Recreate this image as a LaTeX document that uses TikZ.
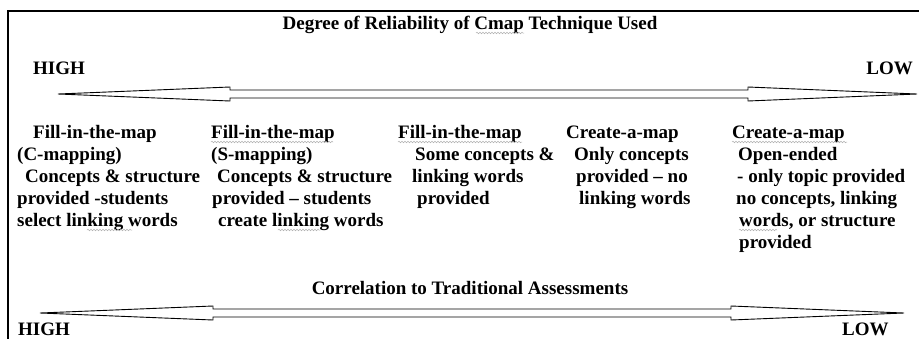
\documentclass[tikz,border=0pt]{standalone}
\usepackage{fontspec}
\setmainfont{Liberation Serif}
\usetikzlibrary{decorations.pathmorphing}
\begin{document}
\begin{tikzpicture}[x=1pt,y=-1pt,
  txt/.style={font=\bfseries\fontsize{19}{22}\selectfont, inner sep=0pt, anchor=base west},
  frame/.style={line width=1.4pt, black},
  blockarrow/.style={draw=black, line width=0.9pt, fill=white, line join=miter},
  squiggle/.style={draw=gray!60, line width=0.5pt, decorate, decoration={snake, amplitude=0.8pt, segment length=3pt}}]
\useasboundingbox (0,0) rectangle (919,338);
\clip (0,0) rectangle (919,338);
\fill[white] (0,0) rectangle (919,338);
% frame
\draw[frame] (919,11) -- (8,11) -- (8,340);
% titles
\node[txt, anchor=base] (title) at (470,29) {Degree of Reliability of Cmap Technique Used};
\node[txt] (high1) at (33,74) {HIGH};
\node[txt, anchor=base east] (low1) at (913,74) {LOW};
\node[txt, anchor=base] (corr) at (470,294) {Correlation to Traditional Assessments};
\node[txt] (high2) at (18,335) {HIGH};
\node[txt] (low2) at (842,335) {LOW};
% top double arrow
\draw[blockarrow] (58,94) -- (230,87) -- (230,90) -- (748,90) -- (748,87) -- (917,94)
  -- (748,101) -- (748,98) -- (230,98) -- (230,101) -- cycle;
% bottom double arrow
\draw[blockarrow] (40,313) -- (213,306) -- (213,309) -- (731,309) -- (731,306) -- (904,313)
  -- (731,320) -- (731,317) -- (213,317) -- (213,320) -- cycle;
% column 1
\node[txt] (c1a) at (33,138) {Fill-in-the-map};
\node[txt] (c1b) at (17,160) {(C-mapping)};
\node[txt] (c1c) at (25,182) {Concepts \& structure};
\node[txt] (c1d) at (17,204) {provided -students};
\node[txt] (c1e) at (17,226) {select linking words};
% column 2
\node[txt] (c2a) at (211,138) {Fill-in-the-map};
\node[txt] (c2b) at (211,160) {(S-mapping)};
\node[txt] (c2c) at (217,182) {Concepts \& structure};
\node[txt] (c2d) at (212,204) {provided – students};
\node[txt] (c2e) at (218,226) {create linking words};
% column 3
\node[txt] (c3a) at (398,138) {Fill-in-the-map};
\node[txt] (c3b) at (415,160) {Some concepts \&};
\node[txt] (c3c) at (412,182) {linking words};
\node[txt] (c3d) at (417,204) {provided};
% column 4
\node[txt] (c4a) at (566,138) {Create-a-map};
\node[txt] (c4b) at (574,160) {Only concepts};
\node[txt] (c4c) at (576,182) {provided – no};
\node[txt] (c4d) at (579,204) {linking words};
% column 5
\node[txt] (c5a) at (732,138) {Create-a-map};
\node[txt] (c5b) at (738,160) {Open-ended};
\node[txt] (c5c) at (737,182) {- only topic provided};
\node[txt] (c5d) at (736,204) {no concepts, linking};
\node[txt] (c5e) at (739,226) {words, or structure};
\node[txt] (c5f) at (739,248) {provided};
% spell-check squiggles
\draw[squiggle] (476,33) -- (524,33);
\draw[squiggle] (211,142) -- (333,142);
\draw[squiggle] (398,142) -- (522,142);
\draw[squiggle] (732,142) -- (847,142);
\draw[squiggle] (87,230) -- (132,230);
\draw[squiggle] (278,230) -- (320,230);
\draw[squiggle] (739,230) -- (777,230);
\end{tikzpicture}
\end{document}
